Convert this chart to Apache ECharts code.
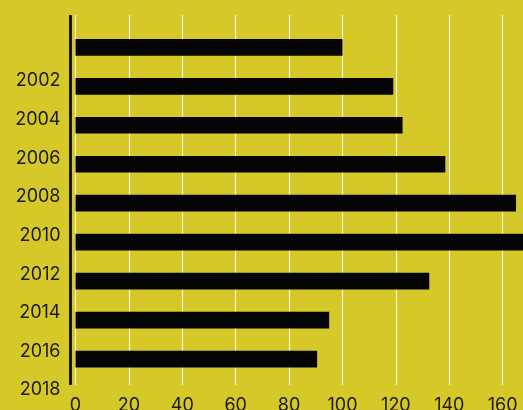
<!DOCTYPE html>
<html>
<head>
<meta charset="utf-8">
<title>Bars by year</title>
<script src="https://cdn.jsdelivr.net/npm/echarts@6/dist/echarts.min.js"></script>
<style>
  html, body { margin: 0; padding: 0; background: #d5c828; }
  #chart { width: 523px; height: 410px; }
</style>
</head>
<body>
<div id="chart"></div>
<script>
// Bar start years and their values
const years = [2000, 2002, 2004, 2006, 2008, 2010, 2012, 2014, 2016];
const values = [100, 119, 122.5, 138.5, 165, 170, 132.5, 95, 90.5];

// Year labels on the vertical axis and value ticks on the horizontal axis
const yearTicks = [2002, 2004, 2006, 2008, 2010, 2012, 2014, 2016, 2018];
const valueTicks = [0, 20, 40, 60, 80, 100, 120, 140, 160];

// Layout constants
const PX_PER_YEAR = 19.48;
const PLOT_TOP = 15;
const PLOT_HEIGHT = 370;
const PLOT_LEFT = 75.5;
const AXIS_LINE_X = 70.7;
const PX_PER_UNIT = 2.67;
const X_MAX = 180;
const BAR_PX = 16.7;
const BAR_YEARS = BAR_PX / PX_PER_YEAR;   // each bar spans from its year downward
const Y_MIN = 2000 - (39 - PLOT_TOP) / PX_PER_YEAR;
const Y_MAX = Y_MIN + PLOT_HEIGHT / PX_PER_YEAR;

// The year labels sit on a slightly tighter scale than the bars
const LABEL_PX_PER_YEAR = 19.3125;
const LABEL_Y_MIN = 2002 - (81 - PLOT_TOP) / LABEL_PX_PER_YEAR;
const LABEL_Y_MAX = 2018.5;

const plotWidth = X_MAX * PX_PER_UNIT;   // runs past the right edge of the canvas
const labelGridHeight = (LABEL_Y_MAX - LABEL_Y_MIN) * LABEL_PX_PER_YEAR;

const font = 'Inter, "Noto Sans", sans-serif';
const textColor = '#1b1b12';

const chart = echarts.init(document.getElementById('chart'), null, { renderer: 'canvas' });

// Horizontal bar from 0 to the value, spanning [year, year + BAR_YEARS] vertically
function renderBar(params, api) {
  const v = api.value(0);
  const y = api.value(1);
  const p0 = api.coord([0, y]);
  const p1 = api.coord([v, y + BAR_YEARS]);
  return {
    type: 'rect',
    shape: { x: p0[0], y: p0[1], width: p1[0] - p0[0], height: p1[1] - p0[1] },
    style: { fill: '#050505' }
  };
}

const gridBase = { left: PLOT_LEFT, width: plotWidth, top: PLOT_TOP, outerBoundsMode: 'none', containLabel: false };

chart.setOption({
  backgroundColor: '#d5c828',
  animation: false,
  grid: [
    // plot area: bars and vertical grid lines
    Object.assign({}, gridBase, { height: PLOT_HEIGHT }),
    // year labels
    Object.assign({}, gridBase, { height: labelGridHeight }),
    // left axis rule (its far edge lies well off the canvas)
    Object.assign({}, gridBase, { left: AXIS_LINE_X, width: 1000, height: PLOT_HEIGHT })
  ],
  xAxis: [
    {
      type: 'value', gridIndex: 0, min: 0, max: X_MAX, interval: 20,
      axisLine: { show: false },
      axisTick: { show: false },
      axisLabel: {
        color: textColor, fontFamily: font, fontSize: 18, margin: 12,
        customValues: valueTicks
      },
      splitLine: { show: true, lineStyle: { color: '#fbf5cf', width: 1.2 } }
    },
    { type: 'value', gridIndex: 1, min: 0, max: X_MAX, show: false },
    {
      type: 'value', gridIndex: 2, min: 0, max: 1, interval: 1,
      axisLine: { show: false },
      axisTick: { show: false },
      axisLabel: { show: false },
      splitLine: { show: true, lineStyle: { color: '#050505', width: 2.7 } }
    }
  ],
  yAxis: [
    {
      type: 'value', gridIndex: 0, inverse: true, min: Y_MIN, max: Y_MAX,
      axisLine: { show: false },
      axisTick: { show: false },
      axisLabel: { show: false },
      splitLine: { show: false }
    },
    {
      type: 'value', gridIndex: 1, inverse: true, min: LABEL_Y_MIN, max: LABEL_Y_MAX,
      axisLine: { show: false },
      axisTick: { show: false },
      splitLine: { show: false },
      axisLabel: {
        color: textColor, fontFamily: font, fontSize: 18, margin: 15,
        customValues: yearTicks,
        formatter: v => String(v)
      }
    },
    { type: 'value', gridIndex: 2, min: 0, max: 1, show: false }
  ],
  series: [
    {
      type: 'custom',
      xAxisIndex: 0,
      yAxisIndex: 0,
      clip: true,
      renderItem: renderBar,
      encode: { x: 0, y: 1 },
      data: years.map((y, i) => [values[i], y])
    }
  ]
});
</script>
</body>
</html>
